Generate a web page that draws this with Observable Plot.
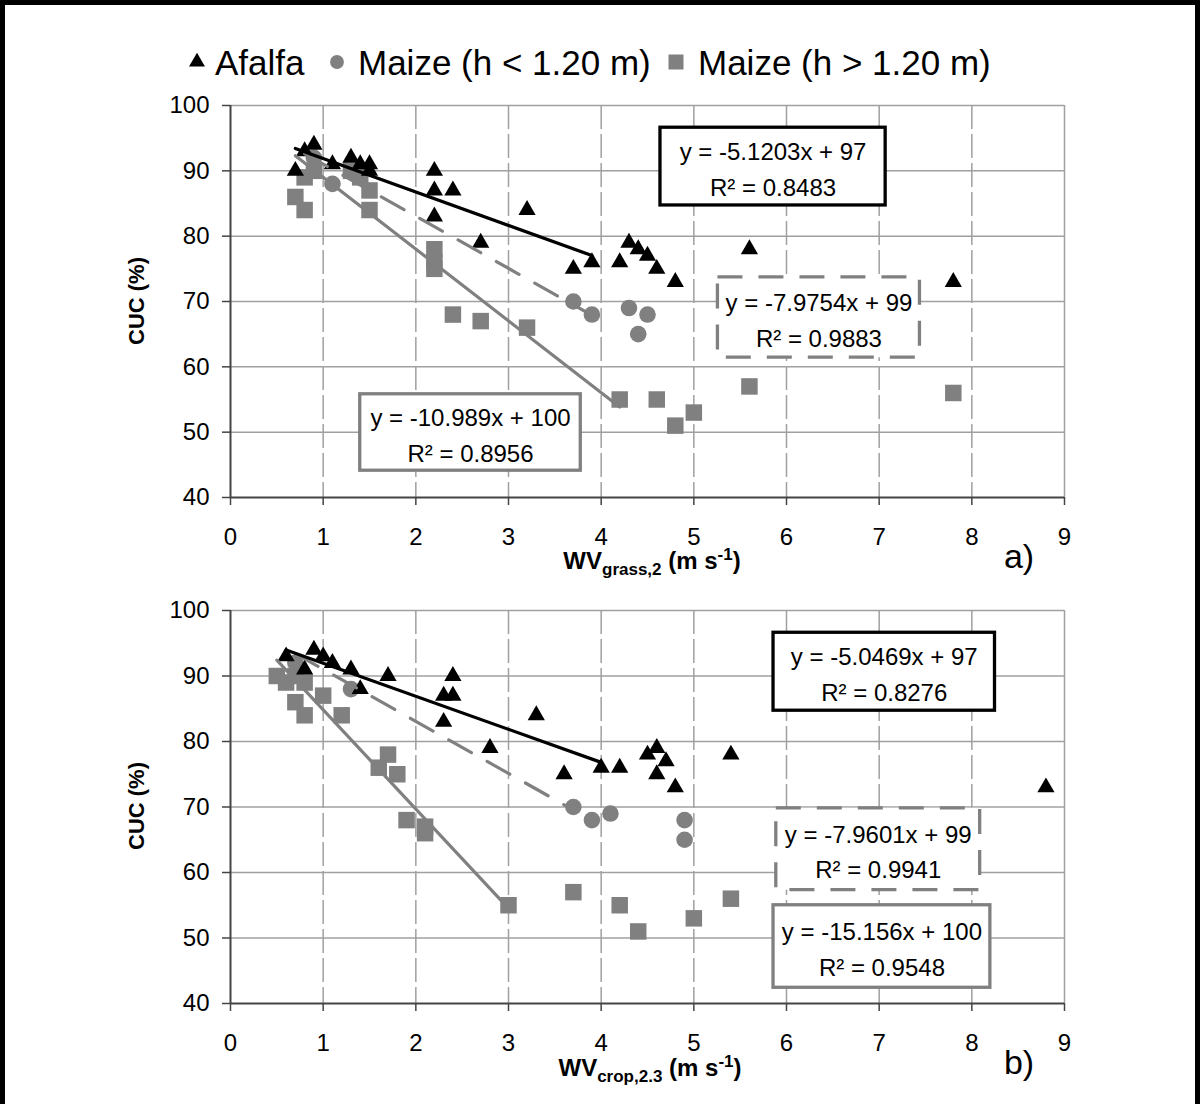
<!DOCTYPE html>
<html>
<head>
<meta charset="utf-8">
<script src="https://cdn.jsdelivr.net/npm/d3@7"></script>
<script src="https://cdn.jsdelivr.net/npm/@observablehq/plot@0.6"></script>
<style>
  body { margin: 0; background: #fff; overflow: hidden; }
  #page { position: relative; width: 1200px; height: 1104px; background: #fff;
          font-family: "Liberation Sans", Arial, sans-serif; color: #000; overflow: hidden; }
  #frame { position: absolute; left: 0; top: 0; width: 1200px; height: 1112px; box-sizing: border-box;
           border: 5px solid #000; pointer-events: none; }
  .abs { position: absolute; white-space: nowrap; }
  .ytitle { font-weight: bold; font-size: 22px; line-height: 22px; transform: translate(-50%, -50%) rotate(-90deg); }
  .xtitle { font-weight: bold; font-size: 24px; line-height: 24px; transform: translate(-50%, -50%); }
  .xtitle sub, .xtitle sup { font-size: 17px; line-height: 0; }
  .panel-tag { font-size: 34px; line-height: 34px; transform: translate(-50%, -50%); }
  .legtext { font-size: 35px; line-height: 35px; }
  .plotwrap { position: absolute; left: 0; }
</style>
</head>
<body>
<div id="page">
  <div id="legend"></div>
  <div id="top" class="plotwrap" style="top:85px"></div>
  <div id="bottom" class="plotwrap" style="top:590px"></div>
  <div class="abs ytitle" style="left:137px; top:301px">CUC (%)</div>
  <div class="abs ytitle" style="left:137px; top:806px">CUC (%)</div>
  <div class="abs xtitle" style="left:652px; top:561px">WV<sub>grass,2</sub> (m s<sup>-1</sup>)</div>
  <div class="abs xtitle" style="left:650px; top:1068px">WV<sub>crop,2.3</sub> (m s<sup>-1</sup>)</div>
  <div class="abs panel-tag" style="left:1019px; top:556px">a)</div>
  <div class="abs panel-tag" style="left:1019px; top:1062px">b)</div>
  <div id="frame"></div>
</div>
<script>
// ---------------- DATA ----------------
const seriesNames = ["Afalfa", "Maize (h < 1.20 m)", "Maize (h > 1.20 m)"];

// Panel a) : WV grass,2
const alfalfaGrassX = [0.7, 0.8, 0.9, 1.1, 1.3, 1.4, 1.5, 1.5, 2.2, 2.2, 2.4, 2.2, 2.7, 3.2, 3.7, 3.9, 4.2, 4.3, 4.4, 4.5, 4.6, 4.8, 5.6, 7.8];
const alfalfaGrassY = [90, 93, 94, 91, 92, 91, 91, 90, 90, 87, 87, 83, 79, 84, 75, 76, 76, 79, 78, 77, 75, 73, 78, 73];
const maizeLowGrassX = [0.9, 1.1, 3.7, 3.9, 4.3, 4.5, 4.4];
const maizeLowGrassY = [92, 88, 70, 68, 69, 68, 65];
const maizeHighGrassX = [0.7, 0.8, 0.8, 0.9, 1.3, 1.4, 1.5, 1.5, 2.2, 2.2, 2.2, 2.4, 2.7, 3.2, 4.2, 4.6, 4.8, 5.0, 5.6, 7.8];
const maizeHighGrassY = [86, 84, 89, 90, 90, 89, 87, 84, 78, 76, 75, 68, 67, 66, 55, 55, 51, 53, 57, 56];

// Panel b) : WV crop,2.3
const alfalfaCropX = [0.6, 0.8, 0.9, 1.0, 1.1, 1.3, 1.4, 1.7, 2.4, 2.3, 2.4, 2.3, 2.8, 3.3, 3.6, 4.0, 4.2, 4.5, 4.6, 4.7, 4.6, 4.8, 5.4, 8.8];
const alfalfaCropY = [93, 91, 94, 93, 92, 91, 88, 90, 90, 87, 87, 83, 79, 84, 75, 76, 76, 78, 79, 77, 75, 73, 78, 73];
const maizeLowCropX = [0.7, 1.3, 3.7, 3.9, 4.1, 4.9, 4.9];
const maizeLowCropY = [92, 88, 70, 68, 69, 68, 65];
const maizeHighCropX = [0.5, 0.6, 0.7, 0.8, 0.7, 0.8, 1.0, 1.2, 1.6, 1.7, 1.8, 1.9, 2.1, 2.1, 3.0, 3.7, 4.2, 4.4, 5.0, 5.4];
const maizeHighCropY = [90, 89, 90, 89, 86, 84, 87, 84, 76, 78, 75, 68, 67, 66, 55, 57, 55, 51, 53, 56];

// Linear trend lines (Afalfa, Maize<1.20, Maize>1.20)
const trendSlopeGrass = [-5.1203, -7.9754, -10.989];
const trendInterceptGrass = [97, 99, 100];
const trendR2Grass = [0.8483, 0.9883, 0.8956];
const trendXStartGrass = [0.7, 0.8, 0.7];
const trendXEndGrass = [3.9, 3.9, 4.2];

const trendSlopeCrop = [-5.0469, -7.9601, -15.156];
const trendInterceptCrop = [97, 99, 100];
const trendR2Crop = [0.8276, 0.9941, 0.9548];
const trendXStartCrop = [0.6, 0.7, 0.5];
const trendXEndCrop = [4.0, 3.7, 3.0];

// Axis ticks
const xTicks = [0, 1, 2, 3, 4, 5, 6, 7, 8, 9];
const yTicks = [40, 50, 60, 70, 80, 90, 100];

// ---------------- LAYOUT / STYLE ----------------
const gray = "#808080";
const seriesStyle = [
  {symbol: "triangle", fill: "#000", r: 6.4, line: "#000", dash: null, boxDash: null},
  {symbol: "circle", fill: gray, r: 8.3, line: gray, dash: "26,18", boxDash: "25,16"},
  {symbol: "square", fill: gray, r: 9.3, line: gray, dash: null, boxDash: null}
];
// equation boxes placement (data units of each panel)
const boxPlaceGrass = [
  {x1: 4.64, x2: 7.07, y1: 84.7, y2: 96.6},
  {x1: 5.26, x2: 7.44, y1: 61.4, y2: 73.7},
  {x1: 1.40, x2: 3.78, y1: 44.1, y2: 55.8}
];
const boxPlaceCrop = [
  {x1: 5.86, x2: 8.25, y1: 84.7, y2: 96.6},
  {x1: 5.89, x2: 8.09, y1: 57.3, y2: 69.8},
  {x1: 5.86, x2: 8.20, y1: 42.4, y2: 55.0}
];

function pts(xs, ys) { return xs.map((x, i) => ({x, y: ys[i]})); }

function makePanel(series, slopes, intercepts, r2s, xs0, xs1, boxes, plotHeight) {
  const marks = [
    Plot.gridY(yTicks.filter(v => v > 40), {stroke: "#a0a0a0", strokeOpacity: 1, strokeWidth: 1.5}),
    Plot.gridX(xTicks.filter(v => v > 0 && v < 9), {stroke: "#a0a0a0", strokeOpacity: 1, strokeWidth: 1.5, strokeDasharray: "24,5"}),
    Plot.ruleX([9], {stroke: "#a0a0a0", strokeWidth: 1.5}),
    Plot.axisX(xTicks, {tickSize: 8, tickPadding: 22, fontSize: 24, stroke: "#444", strokeWidth: 1.5, label: null}),
    Plot.axisY(yTicks, {tickSize: 8, tickPadding: 13, fontSize: 24, stroke: "#444", strokeWidth: 1.5, label: null}),
    Plot.ruleX([0], {stroke: "#444", strokeWidth: 2}),
    Plot.ruleY([40], {stroke: "#444", strokeWidth: 2})
  ];
  // boxes
  boxes.forEach((b, i) => {
    const st = seriesStyle[i];
    marks.push(Plot.rect([b], {x1: "x1", x2: "x2", y1: "y1", y2: "y2", fill: "white",
      stroke: st.line, strokeWidth: 3.3, strokeDasharray: st.boxDash}));
    marks.push(Plot.text([b], {x: d => (d.x1 + d.x2) / 2, y: d => (d.y1 + d.y2) / 2,
      text: () => `y = ${slopes[i]}x + ${intercepts[i]}\nR² = ${r2s[i]}`,
      fontSize: 24, lineHeight: 1.48, fill: "#000", textAnchor: "middle"}));
  });
  // markers
  [1, 2, 0].forEach(i => {
    const st = seriesStyle[i];
    marks.push(Plot.dot(series[i], {x: "x", y: "y", symbol: st.symbol, r: st.r, fill: st.fill, stroke: "none"}));
  });
  // trend lines
  [2, 1, 0].forEach(i => {
    const st = seriesStyle[i];
    const line = [xs0[i], xs1[i]].map(x => ({x, y: slopes[i] * x + intercepts[i]}));
    marks.push(Plot.line(line, {x: "x", y: "y", stroke: st.line, strokeWidth: 3.2, strokeDasharray: st.dash}));
  });
  return Plot.plot({
    width: 1200,
    height: plotHeight,
    marginLeft: 230,
    marginRight: 136,
    marginTop: 20,
    marginBottom: 60,
    x: {domain: [0, 9], label: null},
    y: {domain: [40, 100], label: null},
    style: {fontFamily: "'Liberation Sans', Arial, sans-serif", fontSize: "24px", color: "#000", background: "transparent", overflow: "visible"},
    marks
  });
}

document.getElementById("top").appendChild(makePanel(
  [pts(alfalfaGrassX, alfalfaGrassY), pts(maizeLowGrassX, maizeLowGrassY), pts(maizeHighGrassX, maizeHighGrassY)],
  trendSlopeGrass, trendInterceptGrass, trendR2Grass, trendXStartGrass, trendXEndGrass, boxPlaceGrass, 472));
document.getElementById("bottom").appendChild(makePanel(
  [pts(alfalfaCropX, alfalfaCropY), pts(maizeLowCropX, maizeLowCropY), pts(maizeHighCropX, maizeHighCropY)],
  trendSlopeCrop, trendInterceptCrop, trendR2Crop, trendXStartCrop, trendXEndCrop, boxPlaceCrop, 473));

// ---------------- LEGEND ----------------
const legend = document.getElementById("legend");
const legendSymbolX = [197, 337, 676];
const legendTextX = [215, 358, 698];
seriesNames.forEach((name, i) => {
  const st = seriesStyle[i];
  const s = d3.create("svg").attr("width", 24).attr("height", 24)
    .style("position", "absolute").style("left", (legendSymbolX[i] - 12) + "px").style("top", (62 - 12) + "px");
  s.append("path").attr("transform", "translate(12,12)")
    .attr("d", d3.symbol(st.symbol === "triangle" ? d3.symbolTriangle : st.symbol === "circle" ? d3.symbolCircle : d3.symbolSquare,
      st.symbol === "circle" ? 150 : st.symbol === "square" ? 225 : 110)())
    .attr("fill", st.fill);
  legend.appendChild(s.node());
  const t = document.createElement("span");
  t.className = "abs legtext";
  t.style.left = legendTextX[i] + "px";
  t.style.top = (62 - 17) + "px";
  t.textContent = name;
  legend.appendChild(t);
});
</script>
</body>
</html>
